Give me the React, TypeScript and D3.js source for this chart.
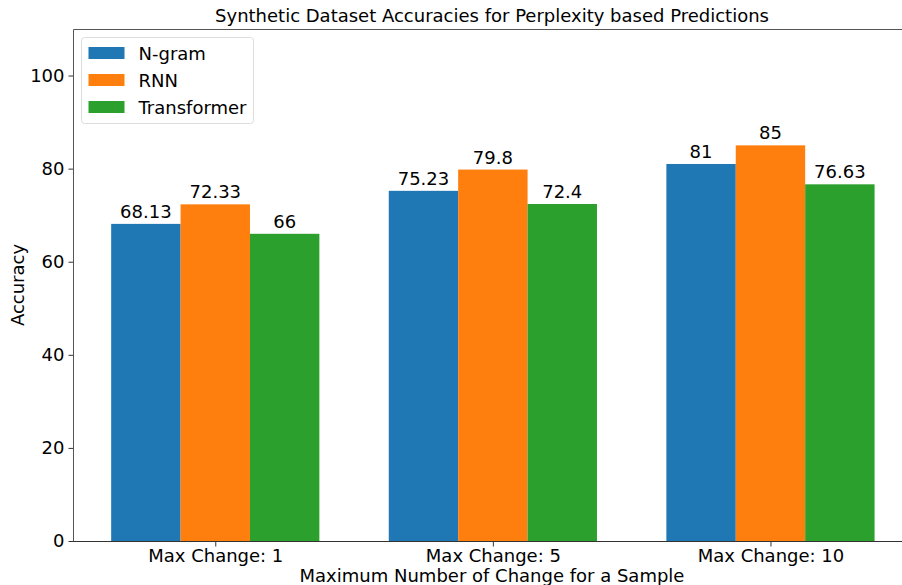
import React, { useEffect, useRef } from "react";
import * as d3 from "d3";

const groups = ["Max Change: 1", "Max Change: 5", "Max Change: 10"];
const seriesNames = ["N-gram", "RNN", "Transformer"];
const ngram = [68.13, 75.23, 81];
const rnn = [72.33, 79.8, 85];
const transformer = [66, 72.4, 76.63];
const yTicks = [0, 20, 40, 60, 80, 100];
const colors = ["#1f77b4", "#ff7f0e", "#2ca02c"];

const App = () => {
  const svgRef = useRef<SVGSVGElement>(null);

  useEffect(() => {
    const svg = d3.select(svgRef.current);
    svg.selectAll("*").remove();

    const font = "DejaVu Sans, sans-serif";
    const fs = 18;
    // plot area (right spine falls outside the picture)
    const margin = { left: 73, top: 29, bottom: 44 };
    const totalHeight = 585;
    const bottom = totalHeight - margin.bottom;

    const series = [ngram, rnn, transformer];

    // group positions 0..2, bars offset by -0.25/0/0.25 with width 0.25
    const xScale = d3
      .scaleLinear()
      .domain([-0.5125, 2.5125])
      .range([margin.left, margin.left + 3.025 * 277.6]);

    const yScale = d3.scaleLinear().domain([0, 110]).range([bottom, margin.top]);

    const barW = xScale(0.25) - xScale(0);

    // bars
    series.forEach((vals, si) => {
      svg
        .append("g")
        .selectAll("rect")
        .data(vals)
        .join("rect")
        .attr("x", (d, i) => xScale(i + (si - 1) * 0.25) - barW / 2)
        .attr("y", (d) => yScale(d))
        .attr("width", barW)
        .attr("height", (d) => bottom - yScale(d))
        .attr("fill", colors[si]);

      svg
        .append("g")
        .selectAll("text")
        .data(vals)
        .join("text")
        .attr("x", (d, i) => xScale(i + (si - 1) * 0.25))
        .attr("y", (d) => yScale(d) - 6)
        .attr("text-anchor", "middle")
        .attr("font-family", font)
        .attr("font-size", fs)
        .attr("fill", "#000")
        .text((d) => String(d));
    });

    // y axis
    const yAxis = svg.append("g").attr("transform", `translate(${margin.left + 0.5},0)`);
    yAxis
      .call(d3.axisLeft(yScale).tickValues(yTicks).tickSize(5).tickPadding(4))
      .call((g) => g.select(".domain").remove());
    yAxis.selectAll("line").attr("stroke", "#333");
    yAxis
      .selectAll("text")
      .attr("font-family", font)
      .attr("font-size", fs)
      .attr("fill", "#000");

    // x axis
    const xAxis = svg.append("g").attr("transform", `translate(0,${bottom + 0.5})`);
    xAxis
      .call(
        d3
          .axisBottom(xScale)
          .tickValues([0, 1, 2])
          .tickFormat((d) => groups[d as number])
          .tickSize(5)
          .tickPadding(3)
      )
      .call((g) => g.select(".domain").remove());
    xAxis.selectAll("line").attr("stroke", "#333");
    xAxis
      .selectAll("text")
      .attr("font-family", font)
      .attr("font-size", fs)
      .attr("fill", "#000");

    // spines
    const right = 910;
    svg
      .append("path")
      .attr("d", `M${margin.left + 0.5},${bottom + 0.5}V${margin.top + 0.5}H${right}`)
      .attr("fill", "none")
      .attr("stroke", "#555")
      .attr("stroke-width", 1);
    svg
      .append("line")
      .attr("x1", margin.left)
      .attr("x2", right)
      .attr("y1", bottom + 0.5)
      .attr("y2", bottom + 0.5)
      .attr("stroke", "#333");

    // title
    svg
      .append("text")
      .attr("x", 492)
      .attr("y", 22)
      .attr("text-anchor", "middle")
      .attr("font-family", font)
      .attr("font-size", fs)
      .text("Synthetic Dataset Accuracies for Perplexity based Predictions");

    // axis labels
    svg
      .append("text")
      .attr("x", 492)
      .attr("y", 582)
      .attr("text-anchor", "middle")
      .attr("font-family", font)
      .attr("font-size", fs)
      .text("Maximum Number of Change for a Sample");

    svg
      .append("text")
      .attr("transform", `translate(24,${(bottom + margin.top) / 2}) rotate(-90)`)
      .attr("text-anchor", "middle")
      .attr("font-family", font)
      .attr("font-size", fs)
      .text("Accuracy");

    // legend
    const legend = svg.append("g").attr("transform", "translate(81.5,37.5)");
    legend
      .append("rect")
      .attr("width", 172)
      .attr("height", 86)
      .attr("rx", 3)
      .attr("fill", "rgba(255,255,255,0.8)")
      .attr("stroke", "#ddd");
    seriesNames.forEach((name, i) => {
      legend
        .append("rect")
        .attr("x", 7)
        .attr("y", 9.5 + i * 27)
        .attr("width", 36)
        .attr("height", 12)
        .attr("fill", colors[i]);
      legend
        .append("text")
        .attr("x", 57)
        .attr("y", 22 + i * 27)
        .attr("font-family", font)
        .attr("font-size", fs)
        .text(name);
    });
  }, []);

  return (
    <svg
      ref={svgRef}
      width={902}
      height={585}
      style={{ position: "absolute", left: 0, top: 0, background: "#fff" }}
    ></svg>
  );
};

export default App;
